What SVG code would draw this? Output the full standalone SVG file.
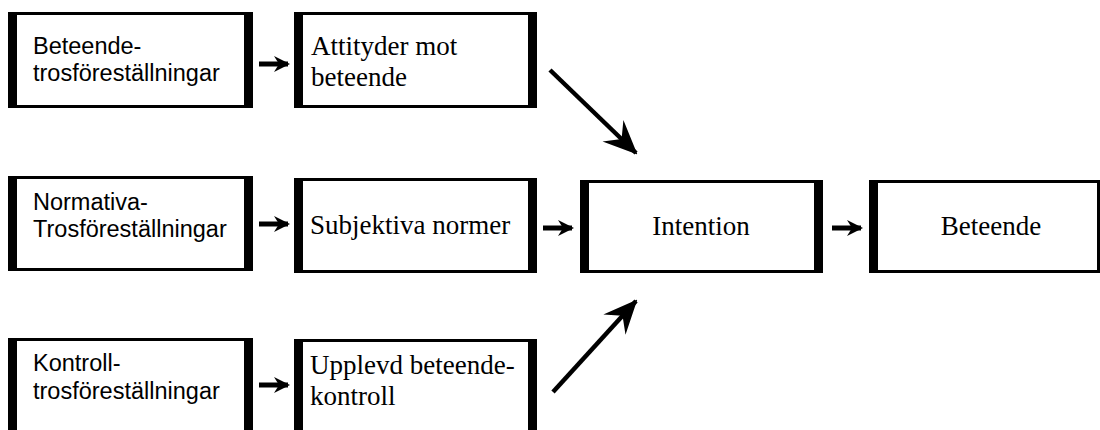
<svg xmlns="http://www.w3.org/2000/svg" width="1100" height="430" viewBox="0 0 1100 430">
  <defs>
    <style>
      .frame { fill: #ffffff; stroke: #000000; stroke-width: 3; }
      .bar { fill: #000000; }
      .sans { font-family: "Liberation Sans", Arial, sans-serif; font-size: 23.5px; fill: #000000; }
      .serif { font-family: "Liberation Serif", "Times New Roman", serif; font-size: 27px; fill: #000000; }
      .shaft { stroke: #000000; stroke-width: 5; fill: none; }
      .diag { stroke: #000000; stroke-width: 4.5; fill: none; }
    </style>
    <marker id="head" viewBox="-16 -9 18 18" refX="0" refY="0" markerWidth="18" markerHeight="18" markerUnits="userSpaceOnUse" orient="auto">
      <path d="M2,0 L-14,-8 L-9,0 L-14,8 Z" fill="#000000"/>
    </marker>
    <marker id="bighead" viewBox="-34 -17 36 34" refX="0" refY="0" markerWidth="36" markerHeight="34" markerUnits="userSpaceOnUse" orient="auto">
      <path d="M2,0 L-32,-15 L-20,0 L-32,15 Z" fill="#000000"/>
    </marker>
  </defs>
  <rect width="1100" height="430" fill="#ffffff"/>

  <g id="node-beteende-tros">
    <rect class="frame" x="9.5" y="13.5" width="242" height="93"/>
    <rect class="bar" x="8" y="12" width="9" height="96"/>
    <rect class="bar" x="244" y="12" width="9" height="96"/>
    <text class="sans" x="33" y="54">Beteende-</text>
    <text class="sans" x="33" y="81">trosföreställningar</text>
  </g>
  <g id="node-attityder">
    <rect class="frame" x="295.5" y="13.5" width="240" height="93"/>
    <rect class="bar" x="294" y="12" width="9" height="96"/>
    <rect class="bar" x="528" y="12" width="9" height="96"/>
    <text class="serif" x="311" y="55">Attityder mot</text>
    <text class="serif" x="311" y="86">beteende</text>
  </g>

  <g id="node-normativa-tros">
    <rect class="frame" x="9.5" y="177.5" width="242" height="92"/>
    <rect class="bar" x="8" y="176" width="9" height="95"/>
    <rect class="bar" x="244" y="176" width="9" height="95"/>
    <text class="sans" x="33" y="210">Normativa-</text>
    <text class="sans" x="33" y="237">Trosföreställningar</text>
  </g>
  <g id="node-subjektiva">
    <rect class="frame" x="295.5" y="179.5" width="240" height="92"/>
    <rect class="bar" x="294" y="178" width="9" height="95"/>
    <rect class="bar" x="528" y="178" width="9" height="95"/>
    <text class="serif" x="310" y="234">Subjektiva normer</text>
  </g>
  <g id="node-intention">
    <rect class="frame" x="581.5" y="181.5" width="240" height="90"/>
    <rect class="bar" x="580" y="180" width="9" height="93"/>
    <rect class="bar" x="814" y="180" width="9" height="93"/>
    <text class="serif" x="701" y="235" text-anchor="middle">Intention</text>
  </g>
  <g id="node-beteende">
    <rect class="frame" x="870.5" y="181.5" width="228" height="90"/>
    <rect class="bar" x="869" y="180" width="9" height="93"/>
    <text class="serif" x="991" y="235" text-anchor="middle">Beteende</text>
  </g>

  <g id="node-kontroll-tros">
    <rect class="frame" x="9.5" y="339.5" width="242" height="120"/>
    <rect class="bar" x="8" y="338" width="9" height="120"/>
    <rect class="bar" x="244" y="338" width="9" height="120"/>
    <text class="sans" x="33" y="371">Kontroll-</text>
    <text class="sans" x="33" y="399">trosföreställningar</text>
  </g>
  <g id="node-upplevd">
    <rect class="frame" x="295.5" y="340.5" width="240" height="120"/>
    <rect class="bar" x="294" y="339" width="9" height="120"/>
    <rect class="bar" x="528" y="339" width="9" height="120"/>
    <text class="serif" x="310" y="374">Upplevd beteende-</text>
    <text class="serif" x="310" y="405">kontroll</text>
  </g>

  <g id="connectors">
    <line class="shaft" x1="259" y1="64" x2="288" y2="64" marker-end="url(#head)"/>
    <line class="shaft" x1="259" y1="224" x2="288" y2="224" marker-end="url(#head)"/>
    <line class="shaft" x1="259" y1="385" x2="288" y2="385" marker-end="url(#head)"/>
    <line class="shaft" x1="543" y1="228" x2="572" y2="228" marker-end="url(#head)"/>
    <line class="shaft" x1="832" y1="228" x2="861" y2="228" marker-end="url(#head)"/>
    <line class="diag" x1="550" y1="70" x2="636" y2="153" marker-end="url(#bighead)"/>
    <line class="diag" x1="553" y1="392" x2="636" y2="301" marker-end="url(#bighead)"/>
  </g>
</svg>
